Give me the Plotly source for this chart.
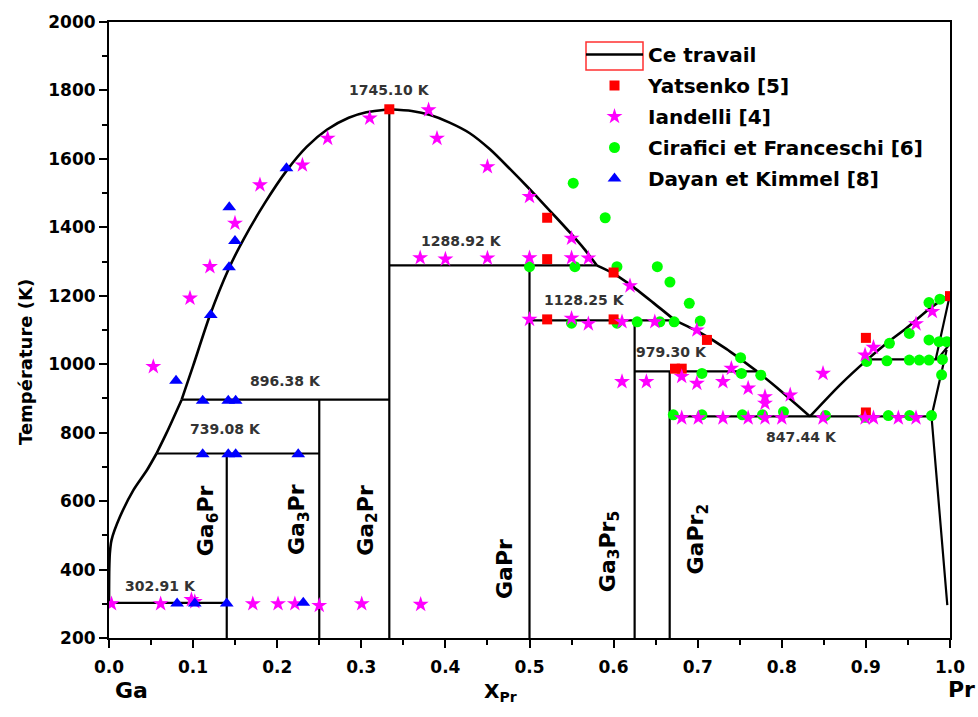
import plotly.graph_objects as go

FONT = "DejaVu Sans"

# ---------------- data ----------------
# Calculated liquidus (this work), branches split at invariant points
liq1_x = [0.0, 0.0003, 0.001, 0.003, 0.013, 0.029, 0.045, 0.0565]
liq1_T = [302.91, 400, 447, 486, 554, 632, 690, 739.08]
liq1b_x = [0.0565, 0.0686, 0.0864]
liq1b_T = [739.08, 800, 896.38]
liq1c_x = [0.0864, 0.100, 0.120, 0.142, 0.160, 0.185, 0.211, 0.235, 0.259, 0.285, 0.306, 0.3333]
liq1c_T = [896.38, 995, 1143, 1277, 1365, 1470, 1565, 1635, 1685, 1720, 1736, 1745.10]
liq2_x = [0.3333, 0.360, 0.382, 0.405, 0.429, 0.453, 0.477, 0.500, 0.516, 0.532, 0.548, 0.565, 0.580]
liq2_T = [1745.10, 1740, 1728, 1706, 1675, 1628, 1570, 1512, 1470, 1428, 1385, 1337, 1288.92]
liq2b_x = [0.580, 0.600, 0.620, 0.647, 0.673]
liq2b_T = [1288.92, 1265, 1232, 1180, 1128.25]
liq2c_x = [0.673, 0.703, 0.734, 0.7705]
liq2c_T = [1128.25, 1092, 1045, 979.30]
liq2d_x = [0.7705, 0.794, 0.8335]
liq2d_T = [979.30, 932, 847.44]
liq3_x = [0.8335, 0.869, 0.901, 0.925, 0.948, 0.976, 1.0]
liq3_T = [847.44, 939, 1012, 1062, 1105, 1163, 1204]

# invariant (horizontal) lines
iso_T = [302.91, 739.08, 896.38, 1288.92, 1128.25, 979.30, 847.44, 1014.0]
iso_x0 = [0.0, 0.0565, 0.0864, 0.3333, 0.500, 0.625, 0.6667, 0.901]
iso_x1 = [0.140, 0.250, 0.3333, 0.580, 0.673, 0.7705, 0.978, 0.985]
iso_labels = ["302.91 K", "739.08 K", "896.38 K", "1288.92 K",
              "1128.25 K", "979.30 K", "847.44 K", ""]

# compounds (vertical lines)
comp_x = [0.140, 0.250, 0.3333, 0.500, 0.625, 0.6667]
comp_Ttop = [739.08, 896.38, 1745.10, 1288.92, 1128.25, 979.30]
comp_names = ["Ga<sub>6</sub>Pr", "Ga<sub>3</sub>Pr", "Ga<sub>2</sub>Pr", "GaPr",
              "Ga<sub>3</sub>Pr<sub>5</sub>", "GaPr<sub>2</sub>"]

# Pr-rich side boundaries
prside_x = [[1.0, 0.983], [1.0, 0.985], [0.996, 0.978, 0.9968]]
prside_T = [[1204, 1014], [1060, 1014], [1042, 847.44, 296]]

# experimental data
yat_x = [0.3333, 0.521, 0.521, 0.600, 0.521, 0.600, 0.673, 0.681, 0.711, 0.900, 0.900, 1.0]
yat_T = [1745, 1428, 1307, 1268, 1131, 1131, 987, 987, 1071, 1077, 859, 1199]

ian_x = [0.003, 0.0614, 0.098, 0.102, 0.171, 0.201, 0.221, 0.250, 0.3005, 0.3706,
         0.0527, 0.0963, 0.120, 0.1498, 0.1795, 0.230, 0.260, 0.310, 0.380, 0.390,
         0.450, 0.500, 0.550, 0.6195,
         0.370, 0.400, 0.450, 0.500, 0.550, 0.570,
         0.500, 0.550, 0.570, 0.610, 0.649,
         0.699, 0.610, 0.639, 0.681, 0.699, 0.730, 0.740, 0.760, 0.780, 0.780, 0.810, 0.849,
         0.681, 0.7007, 0.730, 0.760, 0.780, 0.800, 0.849, 0.899, 0.909, 0.9386, 0.9596,
         0.899, 0.909, 0.9596, 0.979]
ian_T = [300, 300, 312, 306, 300, 300, 300, 295, 300, 298,
         993, 1193, 1285, 1412, 1524, 1582, 1660, 1719, 1743, 1660,
         1577, 1490, 1368, 1229,
         1311, 1307, 1310, 1311, 1311, 1310,
         1131, 1134, 1118, 1124, 1124,
         1100, 949, 949, 964, 944, 949, 988, 930, 905, 886, 910, 973,
         843, 843, 843, 843, 843, 843, 843, 843, 843, 843, 843,
         1027, 1049, 1118, 1154]

cir_x = [0.552, 0.590, 0.500, 0.554, 0.604, 0.652, 0.667, 0.690, 0.703,
         0.550, 0.604, 0.628, 0.655, 0.672,
         0.751, 0.705, 0.752, 0.775,
         0.671, 0.705, 0.753, 0.777, 0.802, 0.852, 0.899, 0.9267, 0.952, 0.978,
         0.901, 0.925, 0.9516, 0.9635, 0.975, 0.991,
         0.928, 0.9516, 0.975, 0.988, 0.975, 0.987, 0.996, 0.990]
cir_T = [1529, 1428, 1285, 1285, 1285, 1285, 1240, 1178, 1126,
         1120, 1120, 1124, 1124, 1124,
         1019, 973, 973, 968,
         852, 852, 852, 852, 861, 850, 845, 850, 850, 850,
         1008, 1010, 1012, 1012, 1012, 1014,
         1061, 1090, 1180, 1190, 1071, 1066, 1066, 969]

day_x = [0.143, 0.1498, 0.1427, 0.121, 0.211, 0.0797, 0.1114, 0.1418, 0.1506,
         0.1114, 0.1418, 0.1506, 0.225, 0.081, 0.102, 0.140, 0.231]
day_T = [1459, 1360, 1283, 1144, 1573, 952, 893, 893, 893,
         737, 737, 737, 737, 301, 301, 301, 303]

x_ticks = [0.0, 0.1, 0.2, 0.3, 0.4, 0.5, 0.6, 0.7, 0.8, 0.9, 1.0]
y_ticks = [200, 400, 600, 800, 1000, 1200, 1400, 1600, 1800, 2000]

# ---------------- figure ----------------
# plot area in the 978x717 window: x 109..950, y 22..638
PL, PT, PW, PH = 109, 22, 841, 616


def px_x(px):
    return (px - PL) / PW


def px_y(py):
    return (PT + PH - py) / PH


fig = go.Figure()
line_style = dict(color="black", width=2.2)

sx, sy = [], []
for t, a, b in zip(iso_T, iso_x0, iso_x1):
    sx += [a, b, None]
    sy += [t, t, None]
for c, top in zip(comp_x, comp_Ttop):
    sx += [c, c, None]
    sy += [200, top, None]
for xs, ts in zip(prside_x, prside_T):
    sx += xs + [None]
    sy += ts + [None]

fig.add_trace(go.Scatter(x=sx, y=sy, mode="lines", line=line_style,
                         showlegend=False, legendgroup="ce", hoverinfo="skip"))
branches = [(liq1_x, liq1_T), (liq1b_x, liq1b_T), (liq1c_x, liq1c_T),
            (liq2_x, liq2_T), (liq2b_x, liq2b_T), (liq2c_x, liq2c_T), (liq2d_x, liq2d_T),
            (liq3_x, liq3_T)]
for i, (lx, ly) in enumerate(branches):
    fig.add_trace(go.Scatter(x=lx, y=ly, mode="lines",
                             line=dict(color="black", width=2.6, shape="spline", smoothing=0.7),
                             name="Ce travail", legendgroup="ce", showlegend=(i == 0),
                             legendrank=1))

fig.add_trace(go.Scatter(x=cir_x, y=cir_T, mode="markers", name="Cirafici et Franceschi [6]",
                         marker=dict(symbol="circle", size=11, color="#00FF00"),
                         legendgroup="cir", legendrank=4))
fig.add_trace(go.Scatter(x=yat_x, y=yat_T, mode="markers", name="Yatsenko [5]",
                         marker=dict(symbol="square", size=10, color="#FF0000"),
                         legendgroup="yat", legendrank=2))
fig.add_trace(go.Scatter(x=ian_x, y=ian_T, mode="markers", name="Iandelli [4]",
                         marker=dict(symbol="star", size=12, color="#FF00FF"),
                         legendgroup="ian", legendrank=3))
fig.add_trace(go.Scatter(x=day_x, y=day_T, mode="markers", name="Dayan et Kimmel [8]",
                         marker=dict(symbol="triangle-up", size=12, color="#0000FF"),
                         legendgroup="day", legendrank=5))

lab_pos = {"302.91 K": (0.0612, 353), "739.08 K": (0.1385, 810), "896.38 K": (0.210, 951),
           "1288.92 K": (0.419, 1361), "1128.25 K": (0.565, 1188), "979.30 K": (0.669, 1037),
           "847.44 K": (0.8236, 787)}
lab_font = dict(family=FONT, size=14, color="#333333", weight="bold")
anns = []
for lab in iso_labels:
    if lab:
        x, y = lab_pos[lab]
        anns.append(dict(x=x, y=y, text=lab, showarrow=False, font=lab_font,
                         xanchor="center", yanchor="middle"))
anns.append(dict(x=0.334, y=1801, text="1745.10 K", showarrow=False, font=lab_font,
                 xanchor="center", yanchor="middle"))

name_pos = [(0.118, 542), (0.226, 545), (0.307, 543), (0.471, 402), (0.595, 452), (0.700, 490)]
for nm, (x, y) in zip(comp_names, name_pos):
    anns.append(dict(x=x, y=y, text=nm, showarrow=False, textangle=-90,
                     xanchor="center", yanchor="middle",
                     font=dict(family=FONT, size=22, color="black", weight="bold")))

big = dict(family=FONT, color="black", weight="bold")
anns += [
    dict(x=px_x(25), y=px_y(362), xref="paper", yref="paper", xanchor="center", yanchor="middle",
         text="Température (K)", textangle=-90, showarrow=False, font=dict(size=18, **big)),
    dict(x=px_x(500), y=px_y(692), xref="paper", yref="paper", xanchor="center", yanchor="middle",
         text="X<sub>Pr</sub>", showarrow=False, font=dict(size=20, **big)),
    dict(x=px_x(131), y=px_y(690), xref="paper", yref="paper", xanchor="center", yanchor="middle",
         text="Ga", showarrow=False, font=dict(size=22, **big)),
    dict(x=px_x(961), y=px_y(689), xref="paper", yref="paper", xanchor="center", yanchor="middle",
         text="Pr", showarrow=False, font=dict(size=22, **big)),
]

axis_common = dict(showline=True, linewidth=2, linecolor="black", mirror=True,
                   ticks="outside", ticklen=8, tickwidth=2, tickcolor="black",
                   showgrid=False, zeroline=False,
                   tickfont=dict(family=FONT, size=17, color="black", weight="bold"))

fig.update_layout(
    width=978, height=717,
    margin=dict(l=PL, r=978 - (PL + PW), t=PT, b=717 - (PT + PH)),
    plot_bgcolor="white", paper_bgcolor="white",
    xaxis=dict(range=[0, 1], tickvals=x_ticks, ticktext=[f"{v:.1f}" for v in x_ticks],
               ticklabelstandoff=5,
               minor=dict(ticks="outside", ticklen=5, tickwidth=2, dtick=0.05, tickcolor="black"),
               **axis_common),
    yaxis=dict(range=[200, 2000], tickvals=y_ticks,
               minor=dict(ticks="outside", ticklen=5, tickwidth=2, dtick=100, tickcolor="black"),
               **axis_common),
    legend=dict(x=px_x(581), y=px_y(35), xanchor="left", yanchor="top",
                bgcolor="rgba(0,0,0,0)", itemwidth=57, tracegroupgap=2,
                font=dict(family=FONT, size=20, color="black", weight="bold")),
    annotations=anns,
    shapes=[dict(type="rect", xref="paper", yref="paper",
                 x0=px_x(586), x1=px_x(643), y0=px_y(70), y1=px_y(42),
                 line=dict(color="#FF3030", width=1.5))],
)

fig.write_html("out.html", config={"displayModeBar": False},
               post_script="document.body.style.margin='0';document.body.style.overflow='hidden';")
